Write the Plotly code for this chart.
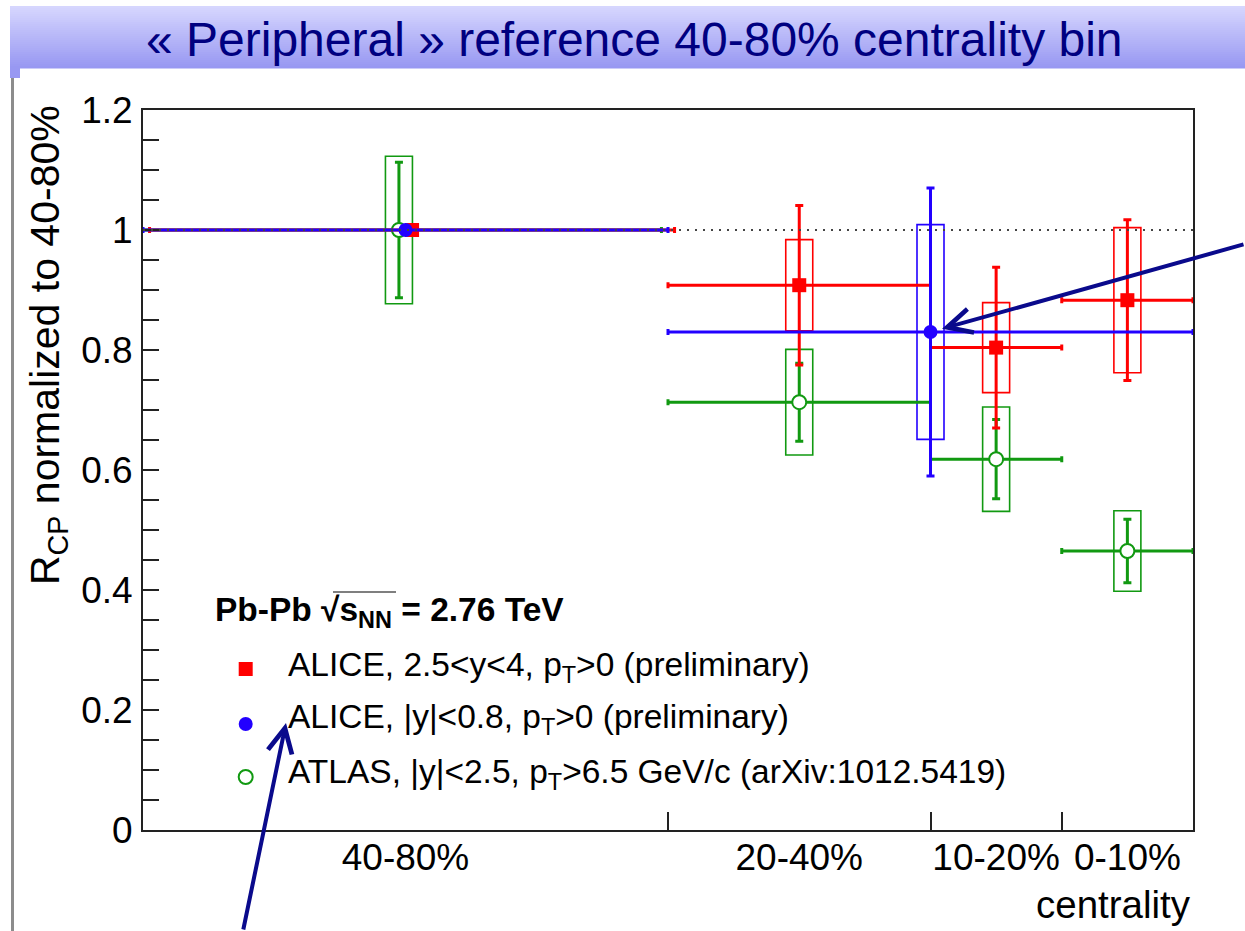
import plotly.graph_objects as go

# ---- figure geometry (pixels) ----
W, H = 1245, 931
ML, MR, MT, MB = 143, 52, 110, 101
PW = W - ML - MR
PH = H - MT - MB


def px_x(p):
    """pixel column -> paper x"""
    return (p - ML) / PW


def px_y(p):
    """pixel row -> paper y"""
    return (H - MB - p) / PH


# ---- data ----
bin_labels = ["40-80%", "20-40%", "10-20%", "0-10%"]
bin_centres = [2.0, 5.0, 6.5, 7.5]
bin_edges = [4, 6, 7]

# ALICE forward rapidity, 2.5<y<4
fwd_x = [2.05, 5.0, 6.5, 7.5]
fwd_xerr = [2.0, 1.0, 0.5, 0.5]
fwd_y = [1.0, 0.908, 0.804, 0.883]
fwd_stat = [0.0, 0.133, 0.134, 0.134]
fwd_sys = [0.0, 0.076, 0.075, 0.121]

# ALICE mid rapidity, |y|<0.8
mid_x = [2.0, 6.0]
mid_xerr = [2.0, 2.0]
mid_y = [1.0, 0.830]
mid_stat = [0.0, 0.240]
mid_sys = [0.0, 0.179]

# ATLAS, |y|<2.5, pT>6.5 GeV/c
atlas_x = [1.95, 5.0, 6.5, 7.5]
atlas_xerr = [2.0, 1.0, 0.5, 0.5]
atlas_y = [1.0, 0.713, 0.618, 0.465]
atlas_stat = [0.113, 0.065, 0.066, 0.053]
atlas_sys = [0.123, 0.088, 0.087, 0.067]

RED = "#ff0000"
BLUE = "#2200ff"
GREEN = "#119911"
NAVY = "#0a0a8c"
FONT = "Liberation Sans, Arial, Helvetica, sans-serif"

fig = go.Figure()


def add_series(x, xerr, y, stat, color, symbol, fill):
    fig.add_trace(go.Scatter(
        x=x, y=y, mode="markers", showlegend=False,
        marker=dict(symbol=symbol, size=14, color=fill,
                    line=dict(color=color, width=2 if fill == "white" else 0)),
        error_x=dict(type="data", array=xerr, symmetric=True, color=color,
                     thickness=3, width=3),
        error_y=dict(type="data", array=stat, symmetric=True, color=color,
                     thickness=3, width=4),
    ))


add_series(atlas_x, atlas_xerr, atlas_y, atlas_stat, GREEN, "circle", "white")
add_series(fwd_x, fwd_xerr, fwd_y, fwd_stat, RED, "square", RED)
add_series(mid_x, mid_xerr, mid_y, mid_stat, BLUE, "circle", BLUE)

shapes = []

# systematic uncertainty boxes
for xs, ys, ss, col in [(atlas_x, atlas_y, atlas_sys, GREEN),
                        (fwd_x, fwd_y, fwd_sys, RED),
                        (mid_x, mid_y, mid_sys, BLUE)]:
    for xv, yv, sv in zip(xs, ys, ss):
        if sv <= 0:
            continue
        shapes.append(dict(
            type="rect", xref="x", yref="y", xsizemode="pixel", xanchor=xv,
            x0=-13.5, x1=13.5, y0=yv - sv, y1=yv + sv,
            line=dict(color=col, width=1.6), fillcolor="rgba(0,0,0,0)",
            layer="below"))

# reference line at unity
shapes.append(dict(type="line", xref="paper", yref="y", x0=0, x1=1, y0=1, y1=1,
                   line=dict(color="#444444", width=2, dash="2px,6px"),
                   layer="above"))

# header bar with vertical gradient
top_c = (214, 214, 254)
bot_c = (152, 152, 242)
y_top, y_bot = 6, 68
n = 31
for i in range(n):
    t = i / (n - 1)
    c = tuple(round(a + (b - a) * t) for a, b in zip(top_c, bot_c))
    ya = y_top + (y_bot - y_top) * i / n
    yb = y_top + (y_bot - y_top) * (i + 1) / n
    shapes.append(dict(type="rect", xref="paper", yref="paper",
                       x0=px_x(10), x1=px_x(W + 2), y0=px_y(yb + 0.5), y1=px_y(ya),
                       line=dict(width=0), fillcolor="rgb(%d,%d,%d)" % c,
                       layer="below"))
shapes.append(dict(type="rect", xref="paper", yref="paper",
                   x0=px_x(10), x1=px_x(20), y0=px_y(78), y1=px_y(68),
                   line=dict(width=0), fillcolor="rgb(152,152,242)", layer="below"))
# slide margin rule
shapes.append(dict(type="line", xref="paper", yref="paper",
                   x0=px_x(12.5), x1=px_x(12.5), y0=px_y(78), y1=px_y(H + 2),
                   line=dict(color="#8c8c8c", width=3), layer="below"))

# legend symbols
leg_x = px_x(245.7)
leg_rows = [669, 724, 777]
shapes.append(dict(type="rect", xref="paper", yref="paper", xsizemode="pixel",
                   ysizemode="pixel", xanchor=leg_x, yanchor=px_y(leg_rows[0]),
                   x0=-7, x1=7, y0=-7, y1=7, fillcolor=RED, line=dict(width=0)))
shapes.append(dict(type="circle", xref="paper", yref="paper", xsizemode="pixel",
                   ysizemode="pixel", xanchor=leg_x, yanchor=px_y(leg_rows[1]),
                   x0=-7, x1=7, y0=-7, y1=7, fillcolor=BLUE, line=dict(width=0)))
shapes.append(dict(type="circle", xref="paper", yref="paper", xsizemode="pixel",
                   ysizemode="pixel", xanchor=leg_x, yanchor=px_y(leg_rows[2]),
                   x0=-7, x1=7, y0=-7, y1=7, fillcolor="white",
                   line=dict(color=GREEN, width=2)))
# overline of the square root in the legend header
shapes.append(dict(type="line", xref="paper", yref="paper",
                   x0=px_x(333), x1=px_x(396), y0=px_y(592), y1=px_y(592),
                   line=dict(color="#555555", width=1.5)))

annotations = []
annotations.append(dict(
    text="« Peripheral » reference 40-80% centrality bin", xref="paper", yref="paper",
    x=px_x(634.5), y=px_y(40), xanchor="center", yanchor="middle", showarrow=False,
    font=dict(family=FONT, size=48, color="#000080")))
annotations.append(dict(
    text="R<sub>CP</sub> normalized to 40-80%", xref="paper", yref="paper",
    x=px_x(48), y=px_y(103), xanchor="center", yanchor="top", textangle=-90,
    showarrow=False, font=dict(family=FONT, size=41, color="black")))
annotations.append(dict(
    text="centrality", xref="paper", yref="paper", x=1.0, y=px_y(904),
    xanchor="right", yanchor="middle", showarrow=False,
    font=dict(family=FONT, size=38.5, color="black")))
annotations.append(dict(
    text="<b>Pb-Pb √s<sub>NN</sub> = 2.76 TeV</b>", xref="paper", yref="paper",
    x=px_x(213), y=px_y(612), xanchor="left", yanchor="middle", showarrow=False,
    font=dict(family=FONT, size=33.5, color="black")))
leg_text = [
    "ALICE, 2.5&lt;y&lt;4, p<sub>T</sub>&gt;0 (preliminary)",
    "ALICE, |y|&lt;0.8, p<sub>T</sub>&gt;0 (preliminary)",
    "ATLAS, |y|&lt;2.5, p<sub>T</sub>&gt;6.5 GeV/c (arXiv:1012.5419)",
]
for row, txt in zip([666.5, 719, 773.5], leg_text):
    annotations.append(dict(
        text=txt, xref="paper", yref="paper", x=px_x(286), y=px_y(row),
        xanchor="left", yanchor="middle", showarrow=False,
        font=dict(family=FONT, size=33.5, color="black")))

# arrows
annotations.append(dict(
    text="", xref="x", yref="y", x=mid_x[1], y=mid_y[1], axref="pixel",
    ayref="pixel", ax=318, ay=-88, standoff=12, showarrow=True, arrowhead=5,
    arrowsize=1.2, arrowwidth=4, arrowcolor=NAVY))
annotations.append(dict(
    text="", xref="paper", yref="paper", x=px_x(286), y=px_y(723), axref="pixel",
    ayref="pixel", ax=-43, ay=210, standoff=0, showarrow=True, arrowhead=5,
    arrowsize=1.2, arrowwidth=4, arrowcolor=NAVY))

fig.update_layout(
    width=W, height=H,
    margin=dict(l=ML, r=MR, t=MT, b=MB, pad=0),
    paper_bgcolor="white", plot_bgcolor="white",
    font=dict(family=FONT, color="black"),
    shapes=shapes, annotations=annotations,
    showlegend=False,
)
fig.update_xaxes(
    range=[0, 8], showgrid=False, zeroline=False,
    showline=True, mirror=True, linecolor="#222222", linewidth=2,
    tickmode="array", tickvals=bin_centres, ticktext=bin_labels, ticks="",
    tickfont=dict(family=FONT, size=37, color="black"), ticklabelstandoff=-6,
    minor=dict(tickmode="array", tickvals=bin_edges, ticks="inside", ticklen=18,
               tickwidth=1.5, tickcolor="#222222"),
)
fig.update_yaxes(
    range=[0, 1.2], showgrid=False, zeroline=False,
    showline=True, mirror=True, linecolor="#222222", linewidth=2,
    tickmode="linear", tick0=0, dtick=0.2, ticks="inside", ticklen=16,
    tickwidth=2, tickcolor="#222222",
    tickfont=dict(family=FONT, size=37, color="black"), ticklabelstandoff=1,
    minor=dict(dtick=0.05, ticks="inside", ticklen=16, tickwidth=2,
               tickcolor="#222222"),
)

fig.write_html("out.html")
